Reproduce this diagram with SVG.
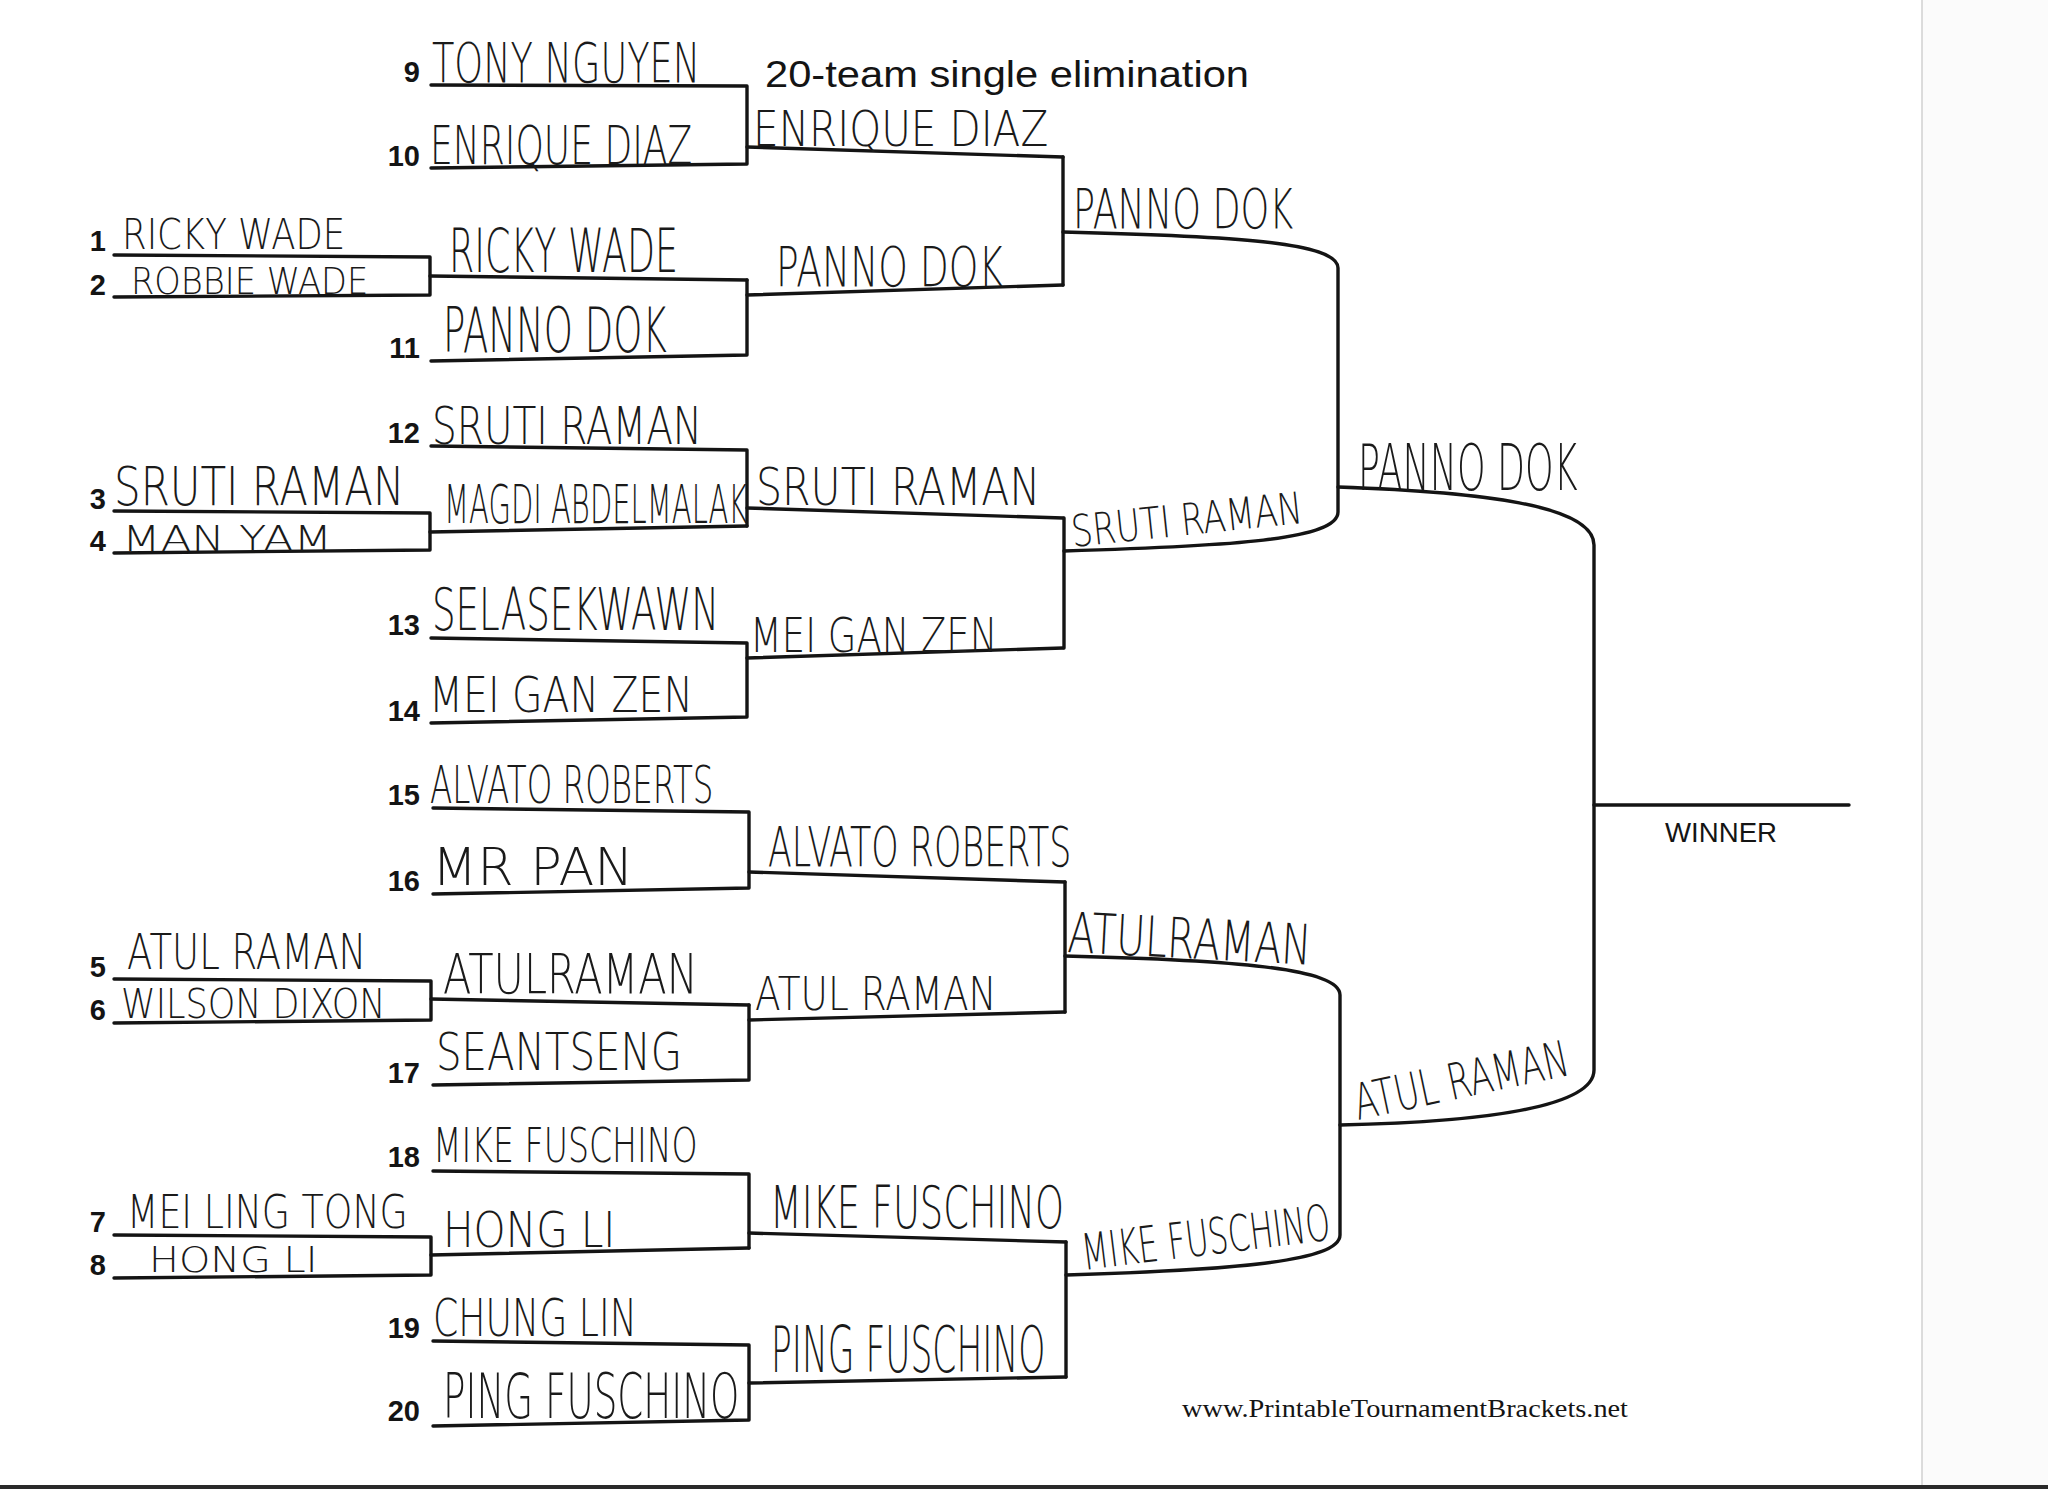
<svg xmlns="http://www.w3.org/2000/svg" width="2048" height="1489" viewBox="0 0 2048 1489">
<style>
.ln{fill:none;stroke:#141414;stroke-width:3.4;stroke-linejoin:round;stroke-linecap:round}
.num{font-family:"Liberation Sans",Arial,sans-serif;font-weight:bold;font-size:29px;fill:#141414;text-anchor:end}
.hw{font-family:"DejaVu Sans","Liberation Sans",sans-serif;font-weight:200;fill:#1a1a1a}
.title{font-family:"Liberation Sans",Arial,sans-serif;font-size:37px;fill:#141414}
.winner{font-family:"Liberation Sans",Arial,sans-serif;font-size:28px;fill:#141414}
.web{font-family:"Liberation Serif","Times New Roman",serif;font-size:25px;fill:#141414}
</style>
<rect x="0" y="0" width="2048" height="1489" fill="#ffffff"/>
<rect x="1922" y="0" width="126" height="1489" fill="#fbfbfb"/>
<line x1="1922" y1="0" x2="1922" y2="1489" stroke="#d0d0d0" stroke-width="1.5"/>
<rect x="0" y="1485" width="2048" height="4" fill="#2a2a2a"/>

<text class="title" x="765" y="87" textLength="484" lengthAdjust="spacingAndGlyphs">20-team single elimination</text>

<g id="connectors" class="ln">
 <path d="M114,255 L430,257 L430,295 L114,297"/>
 <path d="M430,276 L747,280"/>
 <path d="M114,511 L430,513 L430,550 L114,553"/>
 <path d="M430,532 L747,526"/>
 <path d="M114,979 L431,981 L431,1020 L114,1023"/>
 <path d="M431,999 L749,1005"/>
 <path d="M114,1235 L431,1237 L431,1275 L114,1278"/>
 <path d="M431,1255 L749,1248"/>
 <path d="M431,85 L747,86 L747,164 L431,168"/>
 <path d="M747,147 L1063,157"/>
 <path d="M747,280 L747,355 L431,361"/>
 <path d="M747,295 L1063,285"/>
 <path d="M431,446 L747,450 L747,526"/>
 <path d="M747,508 L1063,518"/>
 <path d="M431,638 L747,643 L747,717 L431,723"/>
 <path d="M747,658 L1063,648"/>
 <path d="M433,808 L749,812 L749,888 L433,894"/>
 <path d="M749,872 L1065,882"/>
 <path d="M749,1005 L749,1080 L433,1085"/>
 <path d="M749,1020 L1065,1012"/>
 <path d="M433,1171 L749,1174 L749,1248"/>
 <path d="M749,1233 L1066,1242"/>
 <path d="M433,1341 L749,1345 L749,1420 L433,1426"/>
 <path d="M749,1383 L1066,1377"/>
 <path d="M1063,157 L1063,285"/>
 <path d="M1064,518 L1064,648"/>
 <path d="M1065,882 L1065,1012"/>
 <path d="M1066,1242 L1066,1377"/>
 <path d="M1063,232 C1230,236 1338,242 1338,268 L1338,512 C1338,540 1230,546 1064,551"/>
 <path d="M1065,956 C1230,960 1340,968 1340,995 L1340,1235 C1340,1262 1230,1270 1066,1275"/>
 <path d="M1338,487 C1480,492 1594,505 1594,545 L1594,1070 C1594,1108 1480,1122 1340,1125"/>
 <path d="M1594,805 L1849,805"/>
</g>

<g id="slot-1"><text class="num" x="106" y="251">1</text><text class="hw" transform="translate(122,249) scale(0.836,1)" font-size="42" textLength="267" lengthAdjust="spacingAndGlyphs">RICKY WADE</text></g>
<g id="slot-2"><text class="num" x="106" y="295">2</text><text class="hw" transform="translate(131,294) scale(0.869,1)" font-size="38" textLength="273" lengthAdjust="spacingAndGlyphs">ROBBIE WADE</text></g>
<g id="slot-3"><text class="num" x="106" y="509">3</text><text class="hw" transform="translate(114,505) scale(0.772,1)" font-size="54" textLength="376" lengthAdjust="spacingAndGlyphs">SRUTI RAMAN</text></g>
<g id="slot-4"><text class="num" x="106" y="551">4</text><text class="hw" transform="translate(122,551) scale(1.222,1)" font-size="36" textLength="172" lengthAdjust="spacingAndGlyphs">MAN YAM</text></g>
<g id="slot-5"><text class="num" x="106" y="977">5</text><text class="hw" transform="translate(127,969) scale(0.727,1)" font-size="50" textLength="329" lengthAdjust="spacingAndGlyphs">ATUL RAMAN</text></g>
<g id="slot-6"><text class="num" x="106" y="1020">6</text><text class="hw" transform="translate(121,1018) scale(0.867,1)" font-size="40" textLength="305" lengthAdjust="spacingAndGlyphs">WILSON DIXON</text></g>
<g id="slot-7"><text class="num" x="106" y="1232">7</text><text class="hw" transform="translate(127,1228) scale(0.791,1)" font-size="46" textLength="355" lengthAdjust="spacingAndGlyphs">MEI LING TONG</text></g>
<g id="slot-8"><text class="num" x="106" y="1275">8</text><text class="hw" transform="translate(149,1272) scale(1.109,1)" font-size="36" textLength="152" lengthAdjust="spacingAndGlyphs">HONG LI</text></g>

<g id="slot-9"><text class="num" x="420" y="82">9</text><text class="hw" transform="translate(432,82) scale(0.654,1)" font-size="56" textLength="410" lengthAdjust="spacingAndGlyphs">TONY NGUYEN</text></g>
<g id="slot-10"><text class="num" x="420" y="166">10</text><text class="hw" transform="translate(430,164) scale(0.667,1)" font-size="54" textLength="393" lengthAdjust="spacingAndGlyphs">ENRIQUE DIAZ</text></g>
<g id="slot-11"><text class="num" x="420" y="358">11</text><text class="hw" transform="translate(443,352) scale(0.592,1)" font-size="62" textLength="378" lengthAdjust="spacingAndGlyphs">PANNO DOK</text></g>
<g id="slot-12"><text class="num" x="420" y="443">12</text><text class="hw" transform="translate(432,444) scale(0.746,1)" font-size="52" textLength="362" lengthAdjust="spacingAndGlyphs">SRUTI RAMAN</text></g>
<g id="slot-13"><text class="num" x="420" y="635">13</text><text class="hw" transform="translate(432,630) scale(0.631,1)" font-size="58" textLength="455" lengthAdjust="spacingAndGlyphs">SELASEKWAWN</text></g>
<g id="slot-14"><text class="num" x="420" y="721">14</text><text class="hw" transform="translate(429,712) scale(0.788,1)" font-size="50" textLength="335" lengthAdjust="spacingAndGlyphs">MEI GAN ZEN</text></g>
<g id="slot-15"><text class="num" x="420" y="805">15</text><text class="hw" transform="translate(430,803) scale(0.602,1)" font-size="52" textLength="471" lengthAdjust="spacingAndGlyphs">ALVATO ROBERTS</text></g>
<g id="slot-16"><text class="num" x="420" y="891">16</text><text class="hw" transform="translate(432,885) scale(0.993,1)" font-size="52" textLength="203" lengthAdjust="spacingAndGlyphs">MR PAN</text></g>
<g id="slot-17"><text class="num" x="420" y="1083">17</text><text class="hw" transform="translate(436,1070) scale(0.776,1)" font-size="52" textLength="317" lengthAdjust="spacingAndGlyphs">SEANTSENG</text></g>
<g id="slot-18"><text class="num" x="420" y="1167">18</text><text class="hw" transform="translate(433,1162) scale(0.691,1)" font-size="48" textLength="383" lengthAdjust="spacingAndGlyphs">MIKE FUSCHINO</text></g>
<g id="slot-19"><text class="num" x="420" y="1338">19</text><text class="hw" transform="translate(433,1336) scale(0.698,1)" font-size="52" textLength="292" lengthAdjust="spacingAndGlyphs">CHUNG LIN</text></g>
<g id="slot-20"><text class="num" x="420" y="1421">20</text><text class="hw" transform="translate(443,1418) scale(0.600,1)" font-size="62" textLength="494" lengthAdjust="spacingAndGlyphs">PING FUSCHINO</text></g>

<g id="r1-a"><text class="hw" transform="translate(449,272) scale(0.601,1)" font-size="60" textLength="381" lengthAdjust="spacingAndGlyphs">RICKY WADE</text></g>
<g id="r1-b"><text class="hw" transform="translate(444,523) scale(0.536,1)" font-size="54" textLength="566" lengthAdjust="spacingAndGlyphs">MAGDI ABDELMALAK</text></g>
<g id="r1-c"><text class="hw" transform="translate(443,993) scale(0.728,1)" font-size="56" textLength="350" lengthAdjust="spacingAndGlyphs">ATULRAMAN</text></g>
<g id="r1-d"><text class="hw" transform="translate(443,1247) scale(0.813,1)" font-size="50" textLength="212" lengthAdjust="spacingAndGlyphs">HONG LI</text></g>

<g id="r2-1"><text class="hw" transform="translate(753,146) scale(0.811,1)" font-size="50" textLength="364" lengthAdjust="spacingAndGlyphs">ENRIQUE DIAZ</text></g>
<g id="r2-2"><text class="hw" transform="translate(776,286) scale(0.664,1)" font-size="56" textLength="342" lengthAdjust="spacingAndGlyphs">PANNO DOK</text></g>
<g id="r2-3"><text class="hw" transform="translate(756,505) scale(0.785,1)" font-size="52" textLength="362" lengthAdjust="spacingAndGlyphs">SRUTI RAMAN</text></g>
<g id="r2-4"><text class="hw" transform="translate(750,652) scale(0.768,1)" font-size="48" textLength="322" lengthAdjust="spacingAndGlyphs">MEI GAN ZEN</text></g>
<g id="r2-5"><text class="hw" transform="translate(768,866) scale(0.597,1)" font-size="56" textLength="508" lengthAdjust="spacingAndGlyphs">ALVATO ROBERTS</text></g>
<g id="r2-6"><text class="hw" transform="translate(755,1010) scale(0.800,1)" font-size="46" textLength="302" lengthAdjust="spacingAndGlyphs">ATUL RAMAN</text></g>
<g id="r2-7"><text class="hw" transform="translate(770,1228) scale(0.635,1)" font-size="58" textLength="463" lengthAdjust="spacingAndGlyphs">MIKE FUSCHINO</text></g>
<g id="r2-8"><text class="hw" transform="translate(771,1372) scale(0.538,1)" font-size="64" textLength="510" lengthAdjust="spacingAndGlyphs">PING FUSCHINO</text></g>

<g id="r3-1"><text class="hw" transform="translate(1073,228) scale(0.644,1)" font-size="56" textLength="342" lengthAdjust="spacingAndGlyphs">PANNO DOK</text></g>
<g id="r3-2"><text class="hw" transform="translate(1073,547) rotate(-6) scale(0.758,1)" font-size="44" textLength="306" lengthAdjust="spacingAndGlyphs">SRUTI RAMAN</text></g>
<g id="r3-3"><text class="hw" transform="translate(1067,952) rotate(3) scale(0.696,1)" font-size="56" textLength="350" lengthAdjust="spacingAndGlyphs">ATULRAMAN</text></g>
<g id="r3-4"><text class="hw" transform="translate(1084,1270) rotate(-7) scale(0.626,1)" font-size="50" textLength="399" lengthAdjust="spacingAndGlyphs">MIKE FUSCHINO</text></g>

<g id="r4-1"><text class="hw" transform="translate(1358,490) scale(0.563,1)" font-size="64" textLength="390" lengthAdjust="spacingAndGlyphs">PANNO DOK</text></g>
<g id="r4-2"><text class="hw" transform="translate(1358,1120) rotate(-12) scale(0.663,1)" font-size="50" textLength="329" lengthAdjust="spacingAndGlyphs">ATUL RAMAN</text></g>

<g id="winner"><text class="winner" x="1665" y="842" textLength="112" lengthAdjust="spacingAndGlyphs">WINNER</text></g>

<text class="web" x="1182" y="1417" textLength="446" lengthAdjust="spacingAndGlyphs">www.PrintableTournamentBrackets.net</text>
</svg>
